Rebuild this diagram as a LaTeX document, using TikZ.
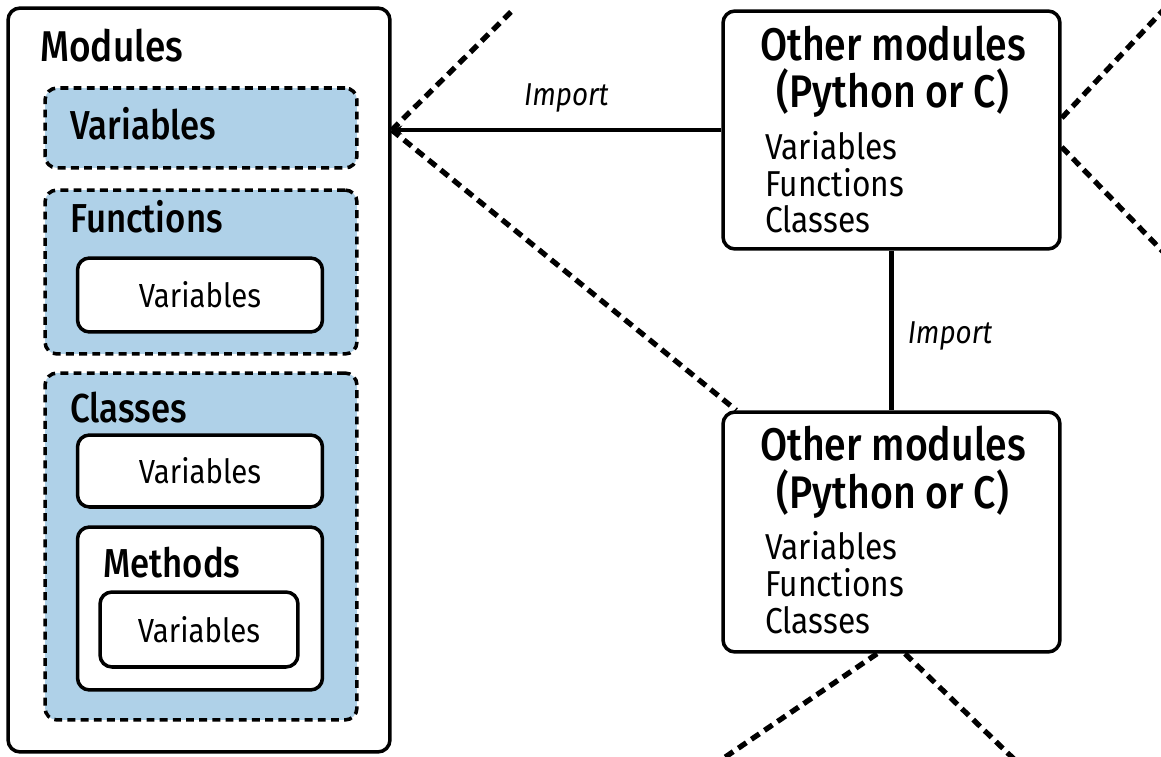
\documentclass[tikz,border=0pt]{standalone}
\usepackage{fontspec}
\setmainfont{Fira Sans}[FakeStretch=0.88]
\newfontfamily\medfont{Fira Sans Medium}[FakeStretch=0.86]
\usetikzlibrary{arrows.meta}

\definecolor{pyblue}{RGB}{175,209,232}

\tikzset{
  modbox/.style={draw, line width=2pt, rounded corners=6.8pt, fill=white, inner sep=0pt},
  groupbox/.style={draw, line width=2pt, dash pattern=on 4.5pt off 3pt, rounded corners=6.8pt, fill=pyblue, inner sep=0pt},
  varbox/.style={draw, line width=2pt, rounded corners=6.8pt, fill=white, font=\fontsize{19}{22}\selectfont},
  boxtitle/.style={anchor=base west, inner sep=0pt, font=\medfont\fontsize{23}{27}\selectfont},
  headtext/.style={align=center, inner sep=0pt, font=\medfont\fontsize{26}{27}\selectfont},
  listtext/.style={align=left, inner sep=0pt, font=\fontsize{20.5}{21}\selectfont},
  implabel/.style={inner sep=0pt, font=\itshape\fontsize{18}{20}\selectfont},
  link/.style={line width=2.6pt},
  others/.style={line width=3pt, dash pattern=on 5.5pt off 3.5pt},
}

\begin{document}
\begin{tikzpicture}[x=0.02cm, y=-0.02cm]
  \clip (0,0) rectangle (1161,757);

  % Module on the left
  \node[modbox, minimum width=7.64cm, minimum height=14.88cm] (mods) at (199,380) {};
  \node[boxtitle, font=\medfont\fontsize{24.5}{28}\selectfont] (modstitle) at (40,62) {Modules};

  % Variables of the module
  \node[groupbox, minimum width=6.24cm, minimum height=1.6cm] (vargroup) at (201,128) {};
  \node[boxtitle] (vartitle) at (70,140) {Variables};

  % Functions
  \node[groupbox, minimum width=6.24cm, minimum height=3.28cm] (fungroup) at (201,272) {};
  \node[boxtitle] (funtitle) at (70,233) {Functions};
  \node[varbox, minimum width=4.9cm, minimum height=1.48cm] (funvars) at (200,295) {Variables};

  % Classes
  \node[groupbox, minimum width=6.24cm, minimum height=6.94cm] (clsgroup) at (201,546.5) {};
  \node[boxtitle] (clstitle) at (70,422) {Classes};
  \node[varbox, minimum width=4.9cm, minimum height=1.44cm] (clsvars) at (200,471) {Variables};
  \node[modbox, minimum width=4.9cm, minimum height=3.26cm] (methods) at (200,608.5) {};
  \node[boxtitle] (methtitle) at (103,577) {Methods};
  \node[varbox, minimum width=3.96cm, minimum height=1.5cm] (methvars) at (199,629.5) {Variables};

  % Other modules (base is the last line)
  \node[modbox, minimum width=6.74cm, minimum height=4.76cm] (other1) at (891.5,130) {};
  \node[headtext, anchor=base] (head1) at (893,108) {Other modules\\(Python or C)};
  \node[listtext, anchor=base west] (list1) at (765,233) {Variables\\Functions\\Classes};

  \node[modbox, minimum width=6.74cm, minimum height=4.8cm] (other2) at (891.5,532) {};
  \node[headtext, anchor=base] (head2) at (893,508) {Other modules\\(Python or C)};
  \node[listtext, anchor=base west] (list2) at (765,633) {Variables\\Functions\\Classes};

  % Free ends of the dashed lines
  \coordinate (tip) at (other1.west -| mods.east);
  \coordinate (upleft) at (515,8);
  \coordinate (d2) at ([xshift=0.3cm]other2.north west);
  \coordinate (r1) at ([yshift=0.24cm]other1.east);
  \coordinate (r1end) at (1170,3);
  \coordinate (r2) at ([yshift=-0.34cm]other1.east);
  \coordinate (r2end) at (1170,259);
  \coordinate (b1) at ([xshift=-0.29cm]other2.south);
  \coordinate (b1end) at (718,762);
  \coordinate (b2) at ([xshift=0.27cm]other2.south);
  \coordinate (b2end) at (1017,762);

  % Dashed lines
  \draw[others] (tip) -- (upleft);
  \draw[others] (tip) -- (d2);
  \draw[others] (r1) -- (r1end);
  \draw[others] (r2) -- (r2end);
  \draw[others] (b1) -- (b1end);
  \draw[others] (b2) -- (b2end);

  % Imports
  \draw[link, -{Stealth[length=6pt, width=5pt]}] (other1.west) -- (tip)
    node[implabel, pos=0.47, above=9pt] {Import};
  \draw[link] (other1.south) -- (other2.north)
    node[implabel, midway, right=8pt, yshift=-3pt] {Import};
\end{tikzpicture}
\end{document}
